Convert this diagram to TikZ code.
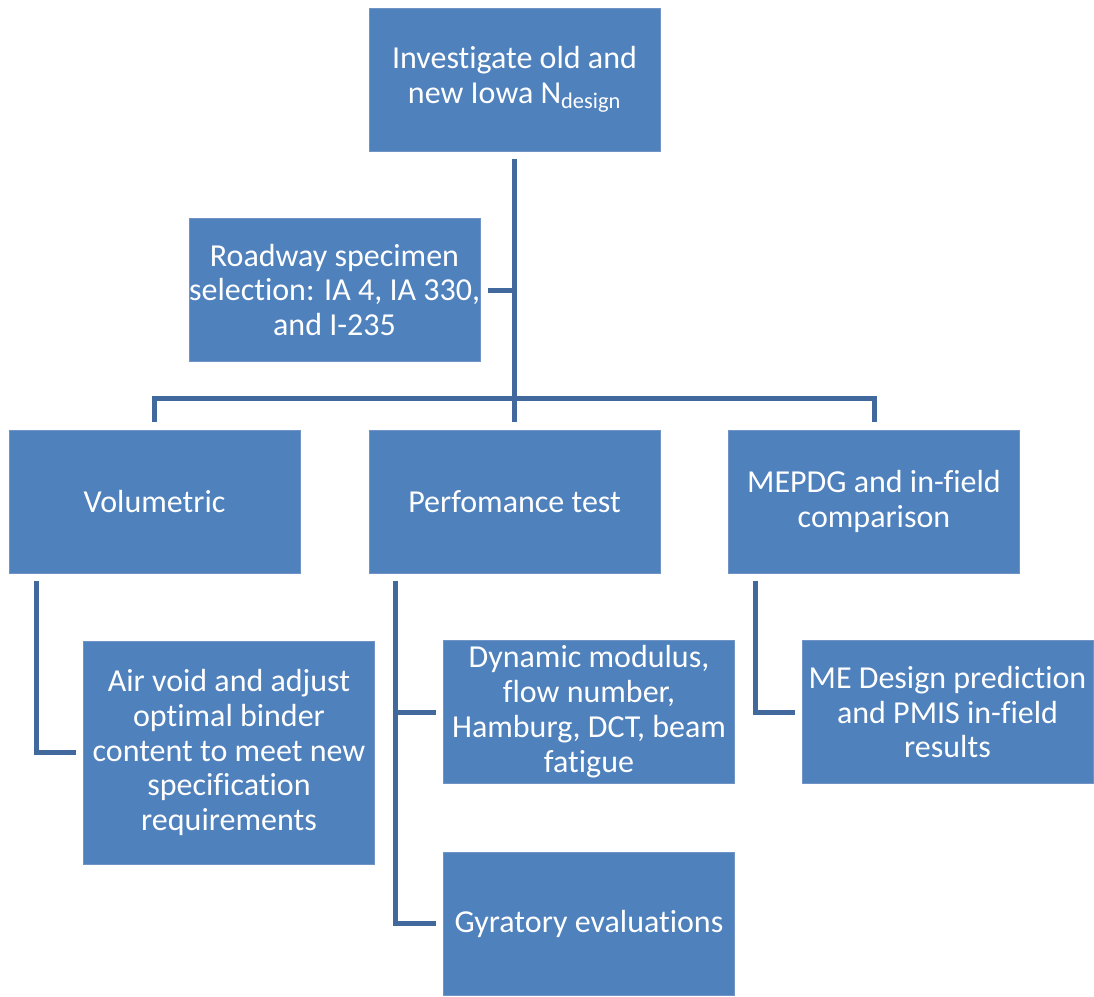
\documentclass[tikz,border=0pt]{standalone}
\usepackage{fontspec}
\setmainfont[Ligatures={NoCommon}]{Carlito}
\usetikzlibrary{calc}
\definecolor{boxfill}{HTML}{4F81BD}
\definecolor{boxline}{HTML}{7094C6}
\definecolor{conn}{HTML}{41699E}
\begin{document}
\begin{tikzpicture}[x=0.75pt,y=-0.75pt,
  box/.style={draw=boxline, line width=0.75pt, fill=boxfill, text=white, align=center,
    inner sep=0pt, minimum width=218.25pt, minimum height=107.25pt,
    font=\fontsize{24}{26.2}\selectfont},
  link/.style={draw=conn, line width=3.75pt}]
\useasboundingbox (0,0) rectangle (1094,996);
\node[box] (top) at (514.5,79.5) {Investigate old and\\new Iowa N\textsubscript{design}};
\node[box] (road) at (334.5,290) {Roadway specimen\\selection: IA 4, IA 330,\\and I-235};
\node[box] (vol) at (154.5,501.5) {Volumetric};
\node[box] (perf) at (514.5,501.5) {Perfomance test};
\node[box] (mepdg) at (874,501.5) {MEPDG and in-field\\comparison};
\node[box, minimum height=167.25pt] (air) at (229,752.5) {Air void and adjust\\optimal binder\\content to meet new\\specification\\requirements};
\node[box] (dyn) at (589,712) {Dynamic modulus,\\flow number,\\Hamburg, DCT, beam\\fatigue};
\node[box] (me) at (947.5,712) {ME Design prediction\\and PMIS in-field\\results};
\node[box] (gyr) at (589,923.5) {Gyratory evaluations};
\coordinate (hub) at (514.5,398);
\draw[link] ($(top.south)+(0,7)$) -- ($(perf.north)+(0,-8)$);
\draw[link] ($(road.east)+(7,0)$) -- (road.east -| hub);
\draw[link] ($(vol.north)+(0,-8)$) |- (hub) -| ($(mepdg.north)+(0,-8)$);
\draw[link] ($(vol.south west)+(28,7)$) |- ($(air.west)+(-7,0)$);
\coordinate (pv) at ($(perf.south west)+(27,7)$);
\draw[link] (pv) |- ($(gyr.west)+(-7,0)$);
\draw[link] (pv |- dyn.west) -- ($(dyn.west)+(-7,0)$);
\draw[link] ($(mepdg.south west)+(27,7)$) |- ($(me.west)+(-7,0)$);
\end{tikzpicture}
\end{document}
